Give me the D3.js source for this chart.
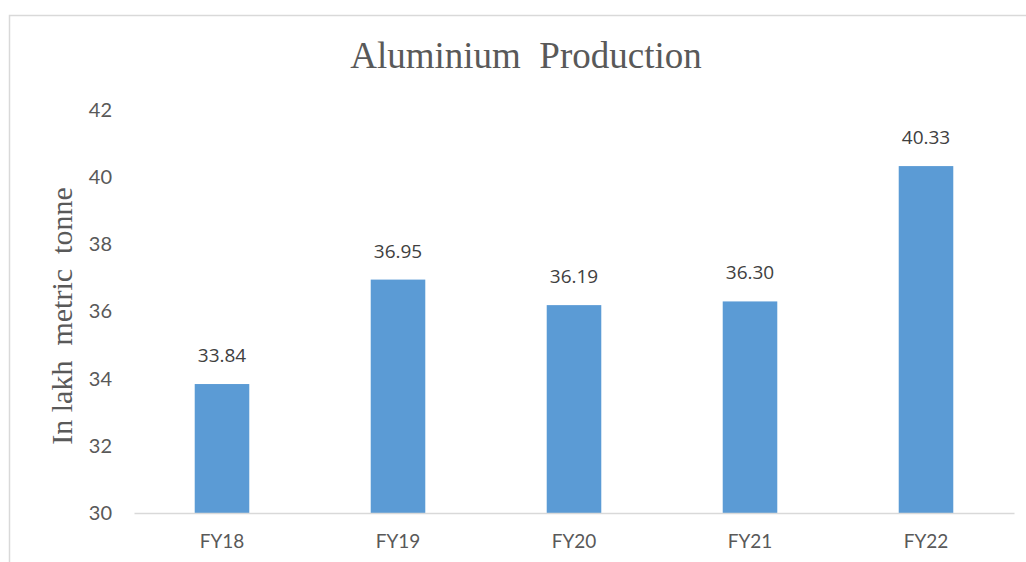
<!DOCTYPE html>
<html>
<head>
<meta charset="utf-8">
<script src="https://cdn.jsdelivr.net/npm/d3@7"></script>
<style>
  body { margin: 0; background: #fff; }
  text { white-space: pre; }
</style>
</head>
<body>
<div id="chart"></div>
<script>
var years = ['FY18', 'FY19', 'FY20', 'FY21', 'FY22'];
var production = [33.84, 36.95, 36.19, 36.30, 40.33];
var yTicks = [30, 32, 34, 36, 38, 40, 42];

var width = 1026, height = 562;
var plotLeft = 134, plotRight = 1014, plotTop = 110, plotBottom = 513;

var svg = d3.select('#chart').append('svg')
    .attr('width', width)
    .attr('height', height);

// chart frame (cropped on right and bottom)
svg.append('path')
    .attr('d', 'M9.5,' + height + 'V15.5H' + width)
    .attr('fill', 'none')
    .attr('stroke', '#d9d9d9')
    .attr('stroke-width', 1.5);

var x = d3.scaleBand()
    .domain(years)
    .range([plotLeft, plotRight])
    .paddingInner(0.69)
    .paddingOuter(0.345);

var y = d3.scaleLinear()
    .domain([30, 42])
    .range([plotBottom, plotTop]);

svg.append('text')
    .attr('x', 526)
    .attr('y', 68)
    .attr('text-anchor', 'middle')
    .attr('font-family', '"Liberation Serif", serif')
    .attr('font-size', 37)
    .attr('fill', '#595959')
    .text('Aluminium  Production');

svg.append('text')
    .attr('transform', 'translate(72,316) rotate(-90)')
    .attr('text-anchor', 'middle')
    .attr('font-family', '"Liberation Serif", serif')
    .attr('font-size', 30)
    .attr('fill', '#595959')
    .text('In lakh  metric  tonne');

// y axis, labels only
var yAxis = svg.append('g')
    .attr('transform', 'translate(' + (plotLeft - 22) + ',0)')
    .call(d3.axisLeft(y).tickValues(yTicks).tickSize(0).tickPadding(0));
yAxis.select('.domain').remove();
yAxis.selectAll('text')
    .attr('font-family', 'Lato, sans-serif')
    .attr('font-size', 20)
    .attr('fill', '#595959');

svg.selectAll('.bar')
    .data(production)
    .enter()
    .append('rect')
    .attr('class', 'bar')
    .attr('x', function(d, i) { return x(years[i]); })
    .attr('width', x.bandwidth())
    .attr('y', function(d) { return y(d); })
    .attr('height', function(d) { return y(30) - y(d); })
    .attr('fill', '#5b9bd5');

// baseline + category labels
var xAxis = svg.append('g')
    .attr('transform', 'translate(0,' + plotBottom + ')')
    .call(d3.axisBottom(x).tickSize(0));
xAxis.select('.domain')
    .attr('stroke', '#d9d9d9')
    .attr('stroke-width', 1.5);
xAxis.selectAll('text')
    .attr('y', 35)
    .attr('dy', 0)
    .attr('font-family', 'Lato, sans-serif')
    .attr('font-size', 19)
    .attr('fill', '#595959');

svg.selectAll('.val')
    .data(production)
    .enter()
    .append('text')
    .attr('class', 'val')
    .attr('x', function(d, i) { return x(years[i]) + x.bandwidth() / 2; })
    .attr('y', function(d) { return y(d) - 22; })
    .attr('text-anchor', 'middle')
    .attr('font-family', '"Open Sans", sans-serif')
    .attr('font-size', 19)
    .attr('fill', '#404040')
    .text(function(d) { return d.toFixed(2); });
</script>
</body>
</html>
